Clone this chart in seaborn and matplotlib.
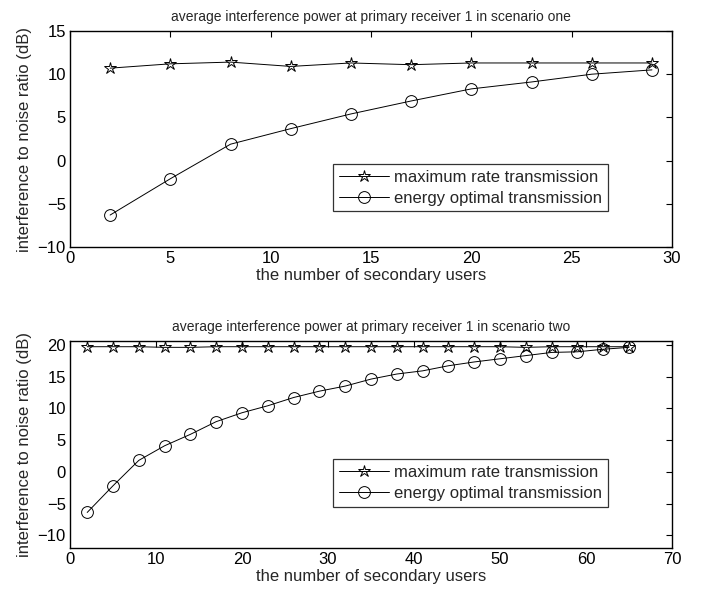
import matplotlib
matplotlib.use("Agg")
import matplotlib.pyplot as plt
import seaborn as sns
import numpy as np

sns.set_style("white")
plt.rcParams['font.family'] = ['Liberation Sans', 'DejaVu Sans']

x1 = [2, 5, 8, 11, 14, 17, 20, 23, 26, 29]
max_rate_1 = [10.7, 11.2, 11.4, 10.9, 11.3, 11.1, 11.3, 11.3, 11.3, 11.3]
energy_opt_1 = [-6.3, -2.1, 1.9, 3.7, 5.4, 6.9, 8.3, 9.1, 10.0, 10.5]

x2 = [2, 5, 8, 11, 14, 17, 20, 23, 26, 29, 32, 35, 38, 41, 44, 47, 50, 53, 56, 59, 62, 65]
max_rate_2 = [19.7, 19.7, 19.7, 19.6, 19.6, 19.7, 19.7, 19.7, 19.7, 19.7, 19.7,
              19.7, 19.7, 19.7, 19.7, 19.7, 19.7, 19.6, 19.7, 19.7, 19.7, 19.7]
energy_opt_2 = [-6.4, -2.2, 1.8, 4.1, 5.9, 7.9, 9.3, 10.4, 11.7, 12.7, 13.5,
                14.6, 15.4, 15.9, 16.7, 17.3, 17.8, 18.3, 18.8, 18.9, 19.3, 19.6]

titles = ["average interference power at primary receiver 1 in scenario one",
          "average interference power at primary receiver 1 in scenario two"]
labels = ["maximum rate transmission", "energy optimal transmission"]

W, H = 703, 597
fig = plt.figure(figsize=(W/100, H/100), dpi=100)
L, R = 70, 672
ax1 = fig.add_axes([L/W, 1-247/H, (R-L)/W, (247-31)/H])
ax2 = fig.add_axes([L/W, 1-548/H, (R-L)/W, (548-341)/H])

configs = [
    (ax1, x1, max_rate_1, energy_opt_1, (0, 30), (-10, 15), np.arange(0, 31, 5), np.arange(-10, 16, 5)),
    (ax2, x2, max_rate_2, energy_opt_2, (0, 70), (-12, 20.6), np.arange(0, 71, 10), np.arange(-10, 21, 5)),
]

for i, (ax, x, a, b, xl, yl, xt, yt) in enumerate(configs):
    sns.lineplot(x=x, y=a, ax=ax, color='k', lw=0.7, marker='*', markersize=9,
                 markerfacecolor='none', markeredgecolor='k', markeredgewidth=0.7,
                 label=labels[0])
    sns.lineplot(x=x, y=b, ax=ax, color='k', lw=0.7, marker='o', markersize=8.5,
                 markerfacecolor='none', markeredgecolor='k', markeredgewidth=0.7,
                 label=labels[1])
    ax.set_xlim(*xl)
    ax.set_ylim(*yl)
    ax.set_xticks(xt)
    ax.set_yticks(yt)
    ax.tick_params(direction='in', top=True, right=True, length=4, width=0.8,
                   labelsize=12, pad=3, colors='k')
    for s in ax.spines.values():
        s.set_visible(True)
        s.set_color('k')
        s.set_linewidth(1.0)
    ax.set_xlabel("the number of secondary users", fontsize=12, labelpad=1)
    ax.set_ylabel("interference to noise ratio (dB)", fontsize=12, labelpad=4)
    ax.set_title(titles[i], fontsize=10, pad=7)
    leg = ax.legend(loc='upper left', fontsize=12, frameon=True, fancybox=False,
                    handlelength=3.0, borderpad=0.35, labelspacing=0.35,
                    handletextpad=0.3, borderaxespad=0)
    leg.get_frame().set_edgecolor('k')
    leg.get_frame().set_linewidth(0.9)

ax1.get_legend().set_bbox_to_anchor((333/W, 1-164/H), transform=fig.transFigure)
ax2.get_legend().set_bbox_to_anchor((333/W, 1-459/H), transform=fig.transFigure)

fig.savefig("out.png", dpi=100)
